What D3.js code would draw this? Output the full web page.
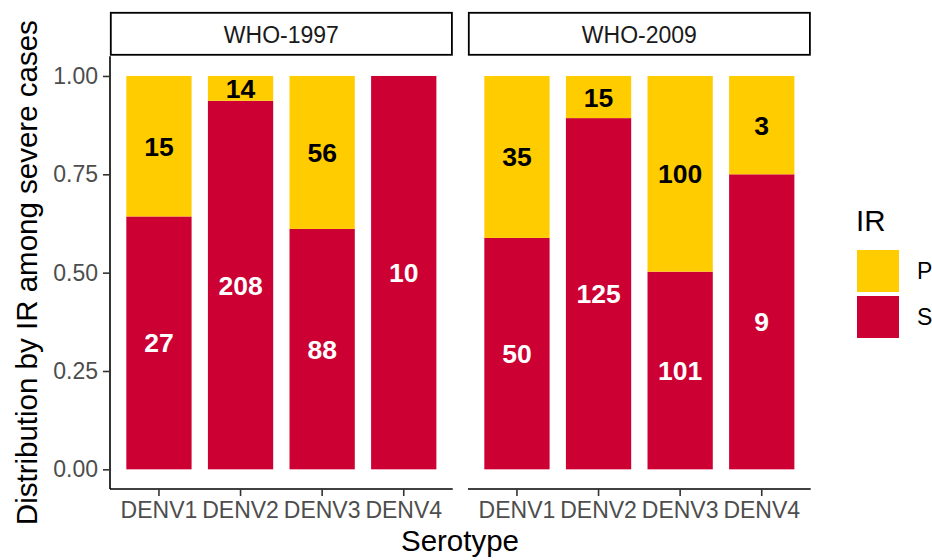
<!DOCTYPE html>
<html>
<head>
<meta charset="utf-8">
<script src="https://cdn.jsdelivr.net/npm/d3@7"></script>
<style>
  html, body { margin: 0; padding: 0; background: #fff; }
  svg { display: block; }
  text { font-family: "Liberation Sans", Arial, Helvetica, sans-serif; }
</style>
</head>
<body>
<svg id="chart" width="932" height="560"></svg>
<script>
// ---- data ----
const categories = ["DENV1", "DENV2", "DENV3", "DENV4"];
const panels = ["WHO-1997", "WHO-2009"];
const countsS = {"WHO-1997": [27, 208, 88, 10], "WHO-2009": [50, 125, 101, 9]};
const countsP = {"WHO-1997": [15, 14, 56, 0], "WHO-2009": [35, 15, 100, 3]};
const yTicks = [0, 0.25, 0.5, 0.75, 1];
const legendKeys = ["P", "S"];
const colors = {P: "#FFCC00", S: "#CC0033"};
const labelColors = {P: "#000000", S: "#FFFFFF"};

// ---- layout ----
const svg = d3.select("#chart");
const panelX = {"WHO-1997": [110, 452.7], "WHO-2009": [468, 810.7]};
const panelTop = 56.3, panelBottom = 489;
const y = d3.scaleLinear().domain([-0.05, 1.05]).range([panelBottom, panelTop]);

panels.forEach((p, pi) => {
  const [x0, x1] = panelX[p];
  const x = d3.scaleBand().domain(categories).range([x0, x1]).paddingInner(0.2).paddingOuter(0.2);

  // strip
  svg.append("rect").attr("x", x0 + 0.8).attr("y", 12.8).attr("width", x1 - x0 - 1.6).attr("height", 42)
    .attr("fill", "#fff").attr("stroke", "#000").attr("stroke-width", 1.8);
  svg.append("text").attr("x", (x0 + x1) / 2).attr("y", 42.5).attr("text-anchor", "middle")
    .attr("font-size", 23).attr("fill", "#1A1A1A").text(p);

  // stacked proportions
  const rows = categories.map((c, i) => {
    const s = countsS[p][i], pv = countsP[p][i], tot = s + pv;
    return {c, s, p: pv, fs: s / tot, fp: pv / tot};
  });
  const g = svg.append("g");
  rows.forEach(r => {
    g.append("rect").attr("x", x(r.c)).attr("width", x.bandwidth())
      .attr("y", y(r.fs)).attr("height", y(0) - y(r.fs)).attr("fill", colors.S);
    if (r.p > 0) {
      g.append("rect").attr("x", x(r.c)).attr("width", x.bandwidth())
        .attr("y", y(1)).attr("height", y(r.fs) - y(1)).attr("fill", colors.P);
    }
  });
  rows.forEach(r => {
    const cx = x(r.c) + x.bandwidth() / 2;
    g.append("text").attr("x", cx).attr("y", y(r.fs / 2)).attr("dy", "0.36em")
      .attr("text-anchor", "middle").attr("font-size", 26.5).attr("font-weight", "bold")
      .attr("fill", labelColors.S).text(r.s);
    if (r.p > 0) {
      g.append("text").attr("x", cx).attr("y", y(r.fs + r.fp / 2)).attr("dy", "0.36em")
        .attr("text-anchor", "middle").attr("font-size", 26.5).attr("font-weight", "bold")
        .attr("fill", labelColors.P).text(r.p);
    }
  });

  // x axis
  const xa = svg.append("g").attr("transform", `translate(0,${panelBottom})`)
    .call(d3.axisBottom(x).tickSize(7).tickPadding(6).tickSizeOuter(0));
  xa.select(".domain").attr("stroke", "#000").attr("stroke-width", 1.6)
    .attr("d", `M${x0},0H${x1}`);
  xa.selectAll(".tick line").attr("stroke", "#333").attr("stroke-width", 1.6);
  xa.selectAll(".tick text").attr("font-size", 23).attr("fill", "#4D4D4D")
    .attr("font-family", "Liberation Sans, Arial, sans-serif");

  if (pi === 0) {
    const ya = svg.append("g").attr("transform", `translate(${x0},0)`)
      .call(d3.axisLeft(y).tickValues(yTicks).tickFormat(d3.format(".2f")).tickSize(7).tickPadding(5).tickSizeOuter(0));
    ya.select(".domain").attr("stroke", "#000").attr("stroke-width", 1.6)
      .attr("d", `M0,${panelTop}V${panelBottom}`);
    ya.selectAll(".tick line").attr("stroke", "#333").attr("stroke-width", 1.6);
    ya.selectAll(".tick text").attr("font-size", 23).attr("fill", "#4D4D4D")
      .attr("font-family", "Liberation Sans, Arial, sans-serif");
  }
});

// axis titles
svg.append("text").attr("x", 460).attr("y", 551).attr("text-anchor", "middle")
  .attr("font-size", 29.5).attr("fill", "#000").text("Serotype");
svg.append("text").attr("transform", `translate(37,${(panelTop + panelBottom) / 2}) rotate(-90)`)
  .attr("text-anchor", "middle").attr("font-size", 29.5).attr("fill", "#000")
  .text("Distribution by IR among severe cases");

// legend
svg.append("text").attr("x", 856).attr("y", 231).attr("font-size", 29.5).attr("fill", "#000").text("IR");
legendKeys.forEach((k, i) => {
  const ky = 250 + i * 46;
  svg.append("rect").attr("x", 857).attr("y", ky).attr("width", 42).attr("height", 42).attr("fill", colors[k]);
  svg.append("text").attr("x", 917).attr("y", ky + 21).attr("dy", "0.36em")
    .attr("font-size", 23).attr("fill", "#000").text(k);
});
</script>
</body>
</html>
